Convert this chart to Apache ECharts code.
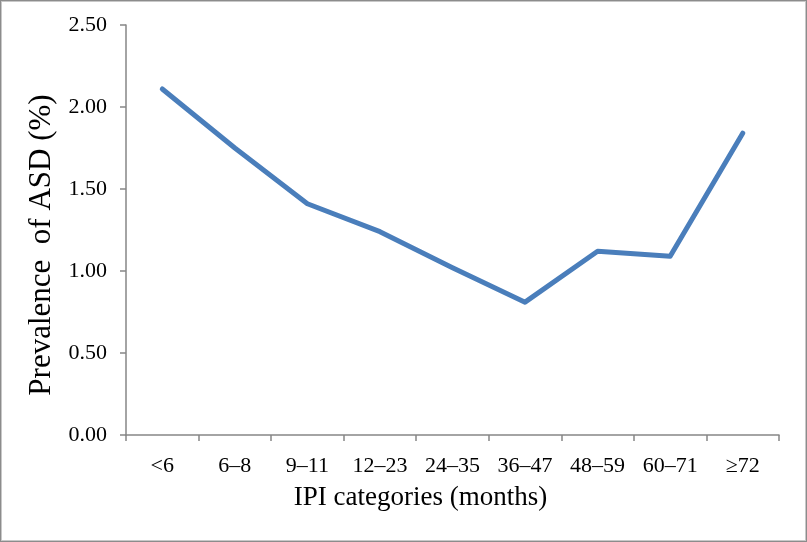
<!DOCTYPE html>
<html>
<head>
<meta charset="utf-8">
<script src="https://cdn.jsdelivr.net/npm/echarts@6/dist/echarts.min.js"></script>
<style>
html,body{margin:0;padding:0;background:#fff;}
#wrap{position:absolute;left:0;top:0;width:805px;height:540px;border:1px solid #8c8c8c;box-shadow:inset 0 0 0 1px #c8c8c8;}
#chart{width:807px;height:542px;position:absolute;left:0;top:0;}
</style>
</head>
<body>
<div id="wrap"></div>
<div id="chart"></div>
<script>
const categories = ['<6', '6–8', '9–11', '12–23', '24–35', '36–47', '48–59', '60–71', '≥72'];
const prevalence = [2.11, 1.75, 1.41, 1.24, 1.02, 0.81, 1.12, 1.09, 1.84];
const yTicks = [0, 0.5, 1.0, 1.5, 2.0, 2.5];

const chart = echarts.init(document.getElementById('chart'), null, {renderer: 'canvas'});
const font = '"Liberation Serif", "Times New Roman", serif';
chart.setOption({
  animation: false,
  backgroundColor: 'transparent',
  grid: {left: 126, right: 28, top: 25, bottom: 107, containLabel: false},
  xAxis: {
    type: 'category',
    data: categories,
    boundaryGap: true,
    name: 'IPI categories (months)',
    nameLocation: 'middle',
    nameGap: 49,
    nameTextStyle: {fontFamily: font, fontSize: 27, color: '#000', padding: [0, 64, 0, 0]},
    axisLine: {lineStyle: {color: '#868686', width: 1.5}},
    axisTick: {show: true, inside: false, length: 6, alignWithLabel: false, lineStyle: {color: '#868686', width: 1.5}},
    axisLabel: {fontFamily: font, fontSize: 22, color: '#000', margin: 20, interval: 0},
    splitLine: {show: false}
  },
  yAxis: {
    type: 'value',
    min: yTicks[0],
    max: yTicks[yTicks.length - 1],
    interval: 0.5,
    name: 'Prevalence  of ASD (%)',
    nameLocation: 'middle',
    nameGap: 63,
    nameRotate: 90,
    nameTextStyle: {fontFamily: font, fontSize: 31, color: '#000', padding: [0, 30, 0, 0]},
    axisLine: {show: true, lineStyle: {color: '#868686', width: 1.5}},
    axisTick: {show: true, inside: false, length: 6, lineStyle: {color: '#868686', width: 1.5}},
    axisLabel: {fontFamily: font, fontSize: 22, color: '#000', margin: 19, formatter: v => v.toFixed(2)},
    splitLine: {show: false}
  },
  series: [{
    type: 'line',
    data: prevalence,
    showSymbol: false,
    symbol: 'none',
    lineStyle: {color: '#4a7ebb', width: 5, cap: 'round', join: 'round'},
    itemStyle: {color: '#4a7ebb'}
  }]
});
</script>
</body>
</html>
